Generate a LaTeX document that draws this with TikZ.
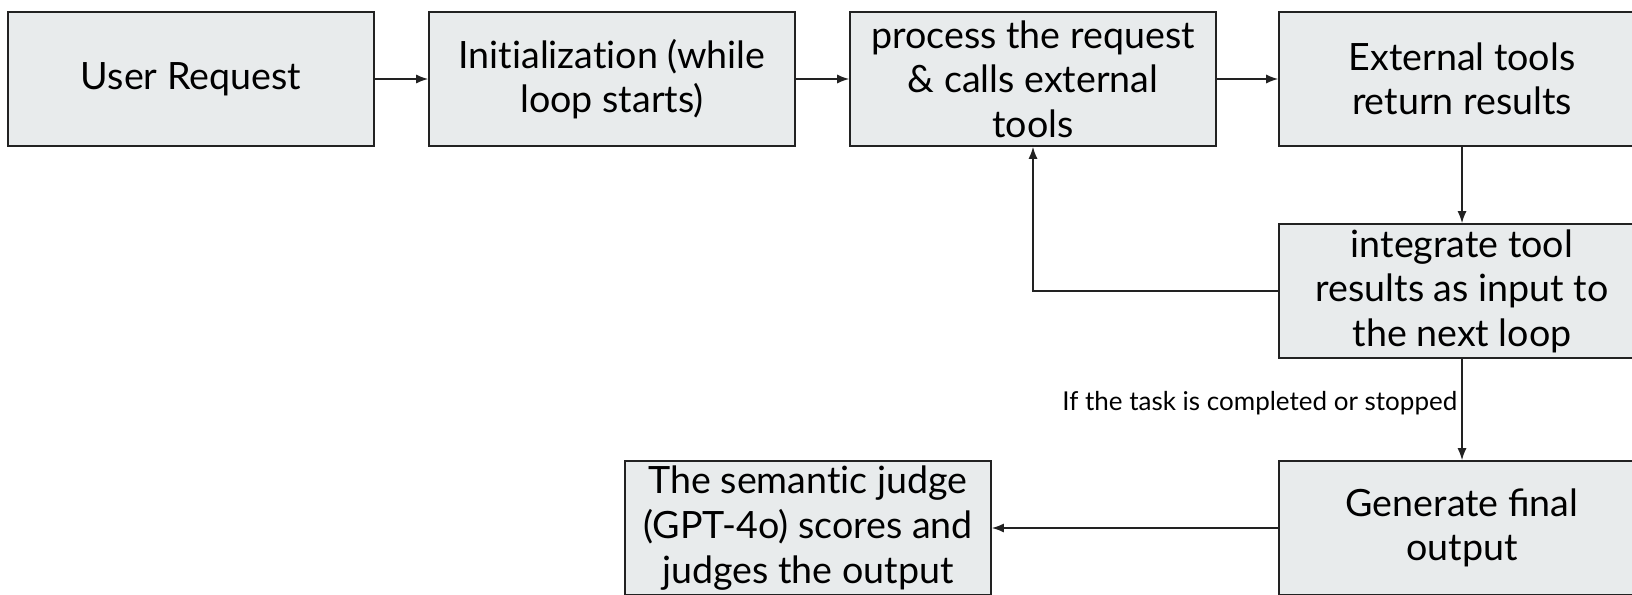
\documentclass[tikz,border=0pt]{standalone}
\usepackage{fontspec}
\setmainfont{Lato}[Ligatures=NoCommon]
\usepackage{tikz}
\usetikzlibrary{arrows.meta}
\definecolor{boxfill}{RGB}{232,235,236}
\definecolor{boxline}{RGB}{34,34,34}
\tikzstyle{every box node}=[draw=boxline,fill=boxfill,line width=0.8pt,minimum width=183pt,minimum height=67pt,inner sep=0pt,align=center,font=\fontsize{18.8}{22.3}\selectfont]
\tikzstyle{flow}=[draw=boxline,line width=0.75pt,-{Latex[length=6pt,width=4.5pt]}]
\tikzstyle{note}=[font=\fontsize{13}{15}\selectfont,inner sep=2pt]

\begin{document}
\begin{tikzpicture}[x=0.5pt,y=-0.5pt]
\useasboundingbox (0,0) rectangle (1632,594);
\clip (0,0) rectangle (1632,594);
\node[every box node] (user) at (191,79) {User Request};
\node[every box node] (init) at (612,79) {Initialization (while\\loop starts)};
\node[every box node] (proc) at (1033,79) {process the request\\\& calls external\\tools};
\node[every box node] (ext) at (1462,79) {External tools\\return results};
\node[every box node] (integ) at (1462,291) {integrate tool\\results as input to\\the next loop};
\node[every box node] (gen) at (1462,528) {Generate ﬁnal\\output};
\node[every box node] (judge) at (808,528) {The semantic judge\\(GPT-4o) scores and\\judges the output};
\draw[flow] (user) -- (init);
\draw[flow] (init) -- (proc);
\draw[flow] (proc) -- (ext);
\draw[flow] (ext) -- (integ);
\draw[flow] (integ.west) -| (proc.south);
\draw[flow] (integ) -- node[note, left, pos=0.44] {If the task is completed or stopped} (gen);
\draw[flow] (gen) -- (judge);
\end{tikzpicture}
\end{document}
